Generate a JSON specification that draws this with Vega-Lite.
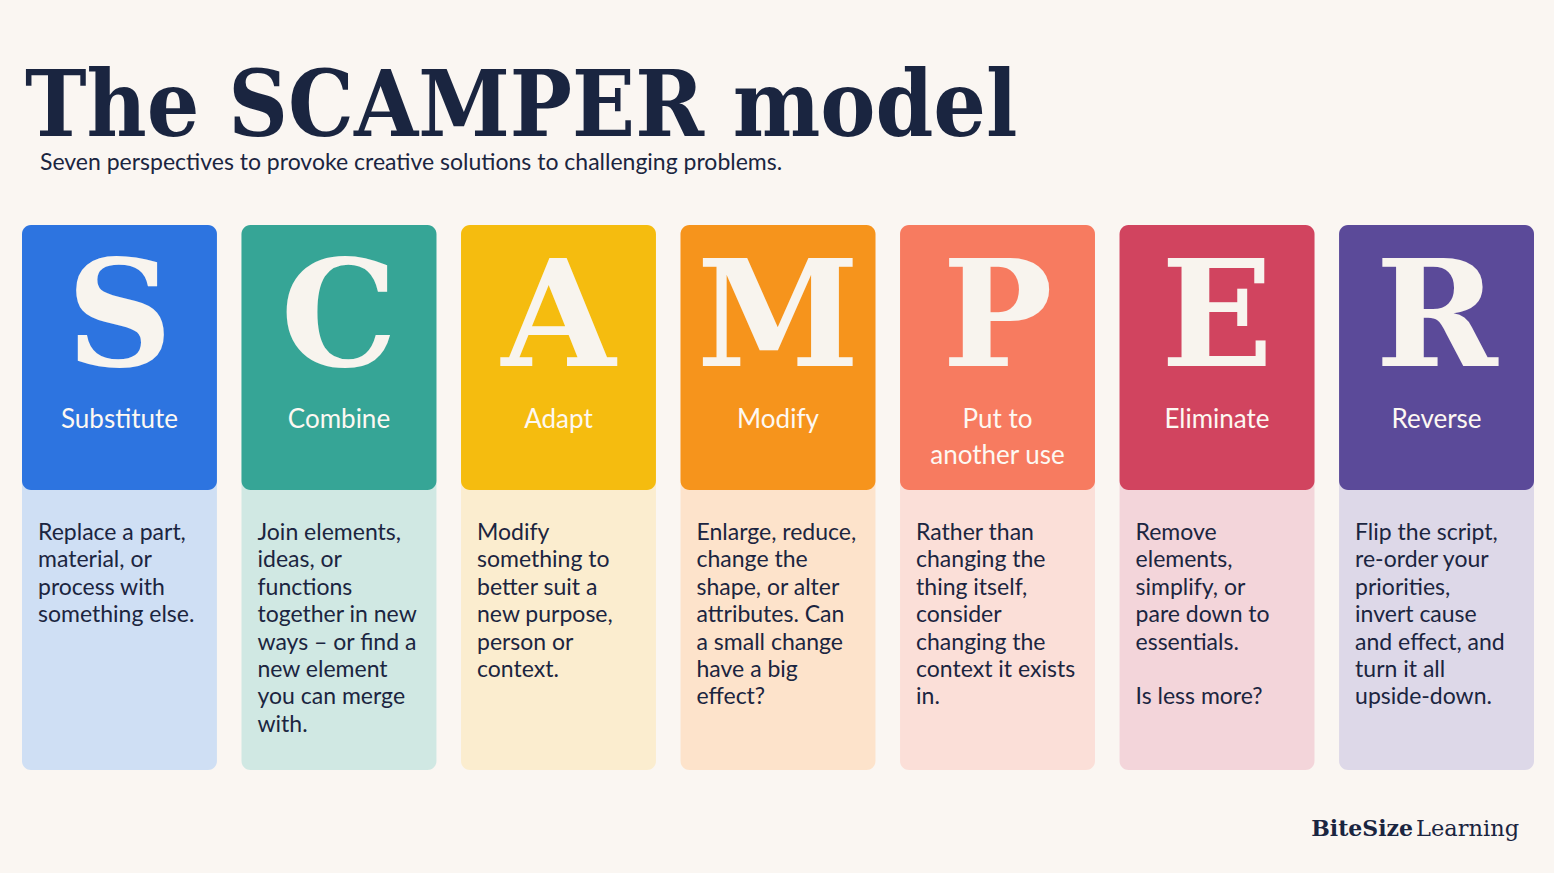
{
  "$schema": "https://vega.github.io/schema/vega-lite/v6.json",
  "width": 1554,
  "height": 873,
  "autosize": {"type": "fit", "contains": "padding"},
  "padding": 0,
  "background": "#faf6f2",
  "config": {"view": {"stroke": null}},
  "data": {
    "values": [
      {"letter": "S", "name": ["Substitute"], "desc": ["Replace a part,", "material, or", "process with", "something else."], "note": ""},
      {"letter": "C", "name": ["Combine"], "desc": ["Join elements,", "ideas, or", "functions", "together in new", "ways – or find a", "new element", "you can merge", "with."], "note": ""},
      {"letter": "A", "name": ["Adapt"], "desc": ["Modify", "something to", "better suit a", "new purpose,", "person or", "context."], "note": ""},
      {"letter": "M", "name": ["Modify"], "desc": ["Enlarge, reduce,", "change the", "shape, or alter", "attributes. Can", "a small change", "have a big", "effect?"], "note": ""},
      {"letter": "P", "name": ["Put to", "another use"], "desc": ["Rather than", "changing the", "thing itself,", "consider", "changing the", "context it exists", "in."], "note": ""},
      {"letter": "E", "name": ["Eliminate"], "desc": ["Remove", "elements,", "simplify, or", "pare down to", "essentials."], "note": "Is less more?"},
      {"letter": "R", "name": ["Reverse"], "desc": ["Flip the script,", "re-order your", "priorities,", "invert cause", "and effect, and", "turn it all", "upside-down."], "note": ""}
    ]
  },
  "encoding": {
    "x": {
      "field": "letter",
      "type": "nominal",
      "sort": null,
      "scale": {"domain": ["S", "C", "A", "M", "P", "E", "R"], "range": [22, 1534], "paddingInner": 0.112, "paddingOuter": 0},
      "axis": null
    }
  },
  "layer": [
    {
      "mark": {"type": "rect", "cornerRadius": 9},
      "encoding": {
        "y": {"datum": 225, "type": "quantitative", "scale": {"domain": [0, 873], "reverse": true, "zero": false, "nice": false}, "axis": null},
        "y2": {"datum": 770},
        "fill": {
          "field": "letter",
          "type": "nominal",
          "scale": {"domain": ["S", "C", "A", "M", "P", "E", "R"], "range": ["#cfdff4", "#d0e8e3", "#fbedcf", "#fde3cb", "#fbdfd8", "#f3d5da", "#ddd8e8"]},
          "legend": null
        }
      }
    },
    {
      "mark": {"type": "rect", "cornerRadius": 9},
      "encoding": {
        "y": {"datum": 225, "type": "quantitative"},
        "y2": {"datum": 490},
        "color": {
          "field": "letter",
          "type": "nominal",
          "scale": {"domain": ["S", "C", "A", "M", "P", "E", "R"], "range": ["#2d74e0", "#36a596", "#f5bc0f", "#f6941c", "#f77b60", "#d1445f", "#5b4a99"]},
          "legend": null
        }
      }
    },
    {
      "mark": {"type": "text", "align": "center", "baseline": "alphabetic", "font": "DejaVu Serif", "fontWeight": "bold", "fontSize": 147, "fill": "#f8f4ee"},
      "encoding": {
        "x": {"field": "letter", "type": "nominal", "bandPosition": 0.5},
        "y": {"datum": 366, "type": "quantitative"},
        "text": {"field": "letter"}
      }
    },
    {
      "mark": {"type": "text", "align": "center", "baseline": "alphabetic", "font": "Lato", "fontSize": 26, "lineHeight": 36, "fill": "#fdf8f2"},
      "encoding": {
        "x": {"field": "letter", "type": "nominal", "bandPosition": 0.5},
        "y": {"datum": 428, "type": "quantitative"},
        "text": {"field": "name"}
      }
    },
    {
      "mark": {"type": "text", "align": "left", "baseline": "alphabetic", "dx": 16, "font": "Lato", "fontSize": 23, "lineHeight": 27.4, "fill": "#1b2540"},
      "encoding": {
        "x": {"field": "letter", "type": "nominal", "bandPosition": 0},
        "y": {"datum": 540, "type": "quantitative"},
        "text": {"field": "desc"}
      }
    },
    {
      "mark": {"type": "text", "align": "left", "baseline": "alphabetic", "dx": 16, "font": "Lato", "fontSize": 23, "fill": "#1b2540"},
      "encoding": {
        "x": {"field": "letter", "type": "nominal", "bandPosition": 0},
        "y": {"datum": 704, "type": "quantitative"},
        "text": {"field": "note"}
      }
    },
    {
      "data": {"values": [{"label": "The SCAMPER model"}]},
      "mark": {"type": "text", "align": "left", "baseline": "alphabetic", "dx": 3, "font": "DejaVu Serif Condensed", "fontWeight": "bold", "fontSize": 92, "fill": "#1a2540"},
      "encoding": {
        "x": {"datum": "S", "type": "nominal", "bandPosition": 0},
        "y": {"datum": 136, "type": "quantitative"},
        "text": {"field": "label"}
      }
    },
    {
      "data": {"values": [{"label": "Seven perspectives to provoke creative solutions to challenging problems."}]},
      "mark": {"type": "text", "align": "left", "baseline": "alphabetic", "dx": 18, "font": "Lato", "fontSize": 23, "fill": "#1a2540"},
      "encoding": {
        "x": {"datum": "S", "type": "nominal", "bandPosition": 0},
        "y": {"datum": 170, "type": "quantitative"},
        "text": {"field": "label"}
      }
    },
    {
      "data": {"values": [{"label": "BiteSize"}]},
      "mark": {"type": "text", "align": "right", "baseline": "alphabetic", "dx": 74, "font": "DejaVu Serif", "fontWeight": "bold", "fontSize": 22, "fill": "#1a2540"},
      "encoding": {
        "x": {"datum": "R", "type": "nominal", "bandPosition": 0},
        "y": {"datum": 836, "type": "quantitative"},
        "text": {"field": "label"}
      }
    },
    {
      "data": {"values": [{"label": "Learning"}]},
      "mark": {"type": "text", "align": "left", "baseline": "alphabetic", "dx": 77, "font": "DejaVu Serif", "fontSize": 22.5, "fill": "#1a2540"},
      "encoding": {
        "x": {"datum": "R", "type": "nominal", "bandPosition": 0},
        "y": {"datum": 836, "type": "quantitative"},
        "text": {"field": "label"}
      }
    }
  ]
}
